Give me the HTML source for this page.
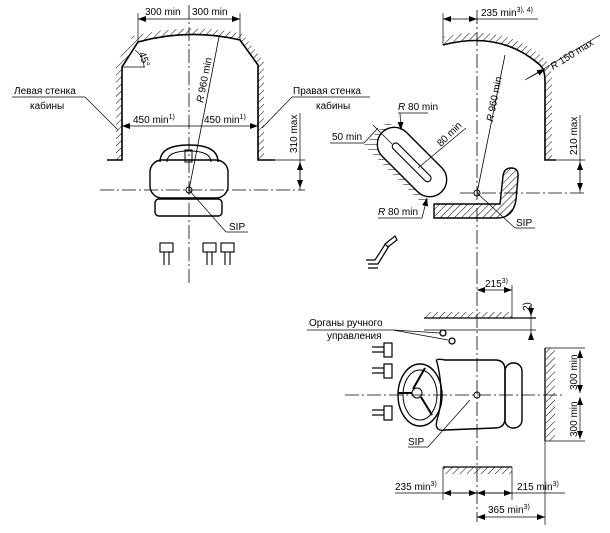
<!DOCTYPE html>
<html><head><meta charset="utf-8"><style>
html,body{margin:0;padding:0;background:#fff}
svg{display:block}
text{font-family:"Liberation Sans",sans-serif;font-size:10px;fill:#000}
</style></head><body>
<svg width="610" height="533" viewBox="0 0 610 533" xmlns="http://www.w3.org/2000/svg">
<defs>
<pattern id="h" width="5" height="5" patternUnits="userSpaceOnUse" patternTransform="rotate(45)">
<line x1="0" y1="0" x2="0" y2="5" stroke="#000" stroke-width="1"/>
</pattern>
<marker id="a" markerWidth="8" markerHeight="6" refX="8" refY="3" orient="auto-start-reverse" markerUnits="userSpaceOnUse"><path d="M0,0 L8,3 L0,6z"/></marker>
</defs>
<g fill="none" stroke="#000" stroke-width="1">
<!-- LEFT VIEW -->
<line x1="189" y1="5" x2="189" y2="285" stroke-dasharray="14,3,2,3" stroke-width="0.8"/>
<line x1="100" y1="190" x2="305" y2="190" stroke-dasharray="14,3,2,3" stroke-width="0.8"/>
<path d="M107,160 L122,160 L122,67 L138,42 Q189,28 240,40 L258,65 L258,160 L275,160" stroke-width="1.6"/>
<path d="M116,160 L116,64 L133,36 Q189,22 243,34 L264,62 L264,160 L258,160 L258,65 L240,40 Q189,28 138,42 L122,67 L122,160z" fill="url(#h)" stroke="none"/>
<line x1="138" y1="13" x2="138" y2="42" stroke-width="0.7"/>
<line x1="240" y1="13" x2="240" y2="40" stroke-width="0.7"/>
<line x1="138" y1="19" x2="240" y2="19" stroke-width="0.7" marker-start="url(#a)" marker-end="url(#a)"/>
<line x1="122" y1="67" x2="145" y2="67" stroke-width="0.7"/>
<path d="M135,50 Q144,57 144,67" stroke-width="0.7"/>
<line x1="122" y1="126" x2="258" y2="126" stroke-width="0.7" marker-start="url(#a)" marker-end="url(#a)"/>
<line x1="189" y1="190" x2="219" y2="37" stroke-width="0.8"/>
<line x1="12" y1="97" x2="85" y2="97" stroke-width="0.7"/>
<line x1="85" y1="97" x2="118" y2="130" stroke-width="0.7"/>
<line x1="370" y1="97" x2="292" y2="97" stroke-width="0.7"/>
<line x1="292" y1="97" x2="262" y2="128" stroke-width="0.7"/>
<line x1="275" y1="160" x2="305" y2="160" stroke-width="0.7"/>
<line x1="300" y1="113" x2="300" y2="190" stroke-width="0.7"/>
<line x1="300" y1="162" x2="300" y2="188" stroke-width="0.7" marker-start="url(#a)" marker-end="url(#a)"/>
<path d="M160,162 Q160,145 189,145 Q218,145 218,162" stroke-width="1.4"/>
<path d="M167,162 Q167,151 189,151 Q211,151 211,162" stroke-width="1"/>
<rect x="185" y="150" width="7" height="12" stroke-width="1"/>
<rect x="150" y="160" width="78" height="38" rx="12" stroke-width="1.4"/>
<rect x="155" y="199" width="67" height="17" rx="4" stroke-width="1.4"/>
<circle cx="189" cy="190" r="3"/>
<line x1="189" y1="190" x2="226" y2="232" stroke-width="0.7"/>
<line x1="226" y1="232" x2="248" y2="232" stroke-width="0.7"/>
<g stroke-width="1.1">
<rect x="160" y="243" width="13" height="9"/><line x1="164" y1="252" x2="164" y2="265"/><line x1="169" y1="252" x2="169" y2="265"/>
<rect x="203" y="243" width="13" height="9"/><line x1="207" y1="252" x2="207" y2="265"/><line x1="212" y1="252" x2="212" y2="265"/>
<rect x="221" y="243" width="13" height="9"/><line x1="225" y1="252" x2="225" y2="265"/><line x1="230" y1="252" x2="230" y2="265"/>
</g>
<!-- RIGHT SIDE VIEW -->
<line x1="477" y1="10" x2="477" y2="270" stroke-dasharray="14,3,2,3" stroke-width="0.8"/>
<line x1="460" y1="193" x2="585" y2="193" stroke-dasharray="14,3,2,3" stroke-width="0.8"/>
<path d="M443,45 Q500,30 540,65 Q545,70 545,80 L545,160 L556,160" stroke-width="1.6"/>
<path d="M443,45 L443,37 Q505,22 546,60 Q552,68 552,80 L552,160 L545,160 L545,80 Q545,70 540,65 Q500,30 443,45z" fill="url(#h)" stroke="none"/>
<line x1="443" y1="13" x2="443" y2="45" stroke-width="0.7"/>
<line x1="443" y1="19" x2="477" y2="19" stroke-width="0.7" marker-start="url(#a)" marker-end="url(#a)"/>
<line x1="477" y1="19" x2="538" y2="19" stroke-width="0.7"/>
<line x1="477" y1="193" x2="505" y2="55" stroke-width="0.8"/>
<line x1="525" y1="80" x2="600" y2="35" stroke-width="0.7"/>
<line x1="527" y1="79" x2="545" y2="69" stroke-width="0.7" marker-end="url(#a)"/>
<line x1="556" y1="160" x2="585" y2="160" stroke-width="0.7"/>
<line x1="580" y1="115" x2="580" y2="193" stroke-width="0.7"/>
<line x1="580" y1="162" x2="580" y2="191" stroke-width="0.7" marker-start="url(#a)" marker-end="url(#a)"/>
<circle cx="477" cy="193" r="3"/>
<line x1="477" y1="193" x2="515" y2="228" stroke-width="0.7"/>
<line x1="515" y1="228" x2="535" y2="228" stroke-width="0.7"/>
<!-- seat side -->
<path d="M434,204 L500,204 L503,176 Q504,168 511,168 Q519,168 518,177 L516,200 Q513,218 497,218 L434,218z" fill="url(#h)" stroke-width="1.4"/>
<!-- pedal capsule -->
<g transform="translate(412,162) rotate(45)">
<rect x="-42" y="-12" width="84" height="34" fill="url(#h)" stroke="none" transform="translate(-4,0)" />
<rect x="-42" y="-17" width="84" height="34" rx="17" fill="#fff" stroke-width="1.4"/>
<rect x="-26" y="-3" width="52" height="7" rx="3.5" stroke-width="1.1"/>
</g>
<line x1="398" y1="113" x2="428" y2="113" stroke-width="0.7"/>
<line x1="400" y1="113" x2="401" y2="130" stroke-width="0.7" marker-end="url(#a)"/>
<line x1="330" y1="143" x2="364" y2="143" stroke-width="0.7"/>
<line x1="364" y1="143" x2="378" y2="128" stroke-width="0.7"/>
<line x1="373" y1="125" x2="392" y2="144" stroke-width="0.7"/>
<line x1="418" y1="168" x2="466" y2="128" stroke-width="0.7"/>
<line x1="378" y1="218" x2="422" y2="218" stroke-width="0.7"/>
<line x1="422" y1="218" x2="427" y2="198" stroke-width="0.7" marker-end="url(#a)"/>
<g stroke-width="1.2">
<path d="M385,244 L395,236 L397,240 L388,247z"/>
<path d="M389,246 L378,264 L368,264 M386,243 L375,260 L366,260 M368,268 L378,268"/>
</g>
<!-- TOP VIEW -->
<line x1="477" y1="270" x2="477" y2="522" stroke-dasharray="14,3,2,3" stroke-width="0.8"/>
<line x1="345" y1="395" x2="565" y2="395" stroke-dasharray="14,3,2,3" stroke-width="0.8"/>
<line x1="512" y1="285" x2="512" y2="318" stroke-width="0.7"/>
<line x1="477" y1="290" x2="512" y2="290" stroke-width="0.7" marker-start="url(#a)" marker-end="url(#a)"/>
<rect x="424" y="312" width="88" height="6" fill="url(#h)" stroke="none"/>
<line x1="424" y1="318" x2="536" y2="318" stroke-width="1.2"/>
<line x1="424" y1="330" x2="536" y2="330" stroke-width="0.7"/>
<line x1="531" y1="305" x2="531" y2="340" stroke-width="0.7"/>
<line x1="531" y1="305" x2="531" y2="316" stroke-width="0.7" marker-end="url(#a)"/>
<line x1="531" y1="340" x2="531" y2="332" stroke-width="0.7" marker-end="url(#a)"/>
<line x1="307" y1="330" x2="393" y2="330" stroke-width="0.7"/>
<line x1="393" y1="330" x2="440" y2="333" stroke-width="0.7"/>
<line x1="393" y1="330" x2="448" y2="340" stroke-width="0.7"/>
<circle cx="443" cy="333" r="3" stroke-width="1.3"/>
<circle cx="452" cy="341" r="3" stroke-width="1.3"/>
<rect x="546" y="348" width="9" height="93" fill="url(#h)" stroke="none"/>
<line x1="545" y1="348" x2="545" y2="441" stroke-width="1.3"/>
<line x1="545" y1="348" x2="585" y2="348" stroke-width="0.7"/>
<line x1="545" y1="441" x2="585" y2="441" stroke-width="0.7"/>
<line x1="580" y1="350" x2="580" y2="393" stroke-width="0.7" marker-start="url(#a)" marker-end="url(#a)"/>
<line x1="580" y1="397" x2="580" y2="439" stroke-width="0.7" marker-start="url(#a)" marker-end="url(#a)"/>
<ellipse cx="420" cy="395" rx="22" ry="31" stroke-width="1.4"/>
<ellipse cx="420" cy="395" rx="17" ry="25" stroke-width="1"/>
<circle cx="417" cy="393" r="5"/>
<path d="M413,389 L425,368 M421,397 L432,415 M412,393 L398,393" stroke-width="2"/>
<path d="M437,362 Q434,358 445,360 L495,360 Q505,360 505,370 L505,418 Q505,428 495,428 L445,430 Q434,432 437,420 Q445,395 437,362z" stroke-width="1.4"/>
<rect x="505" y="363" width="17" height="65" rx="8" stroke-width="1.4"/>
<circle cx="477" cy="395" r="3"/>
<line x1="470" y1="400" x2="428" y2="447" stroke-width="0.7"/>
<line x1="408" y1="447" x2="428" y2="447" stroke-width="0.7"/>
<g stroke-width="1.2">
<rect x="384" y="343" width="8" height="14"/><line x1="372" y1="347" x2="384" y2="347"/><line x1="372" y1="352" x2="384" y2="352"/>
<rect x="384" y="364" width="8" height="14"/><line x1="372" y1="368" x2="384" y2="368"/><line x1="372" y1="373" x2="384" y2="373"/>
<rect x="384" y="406" width="8" height="14"/><line x1="372" y1="410" x2="384" y2="410"/><line x1="372" y1="415" x2="384" y2="415"/>
</g>
<rect x="443" y="467" width="69" height="7" fill="url(#h)" stroke="none"/>
<line x1="443" y1="467" x2="512" y2="467" stroke-width="1.2"/>
<line x1="443" y1="467" x2="443" y2="500" stroke-width="0.7"/>
<line x1="512" y1="467" x2="512" y2="500" stroke-width="0.7"/>
<line x1="545" y1="441" x2="545" y2="525" stroke-width="0.7"/>
<line x1="395" y1="493" x2="565" y2="493" stroke-width="0.7"/>
<line x1="443" y1="493" x2="477" y2="493" stroke-width="0.7" marker-start="url(#a)" marker-end="url(#a)"/>
<line x1="477" y1="493" x2="512" y2="493" stroke-width="0.7" marker-start="url(#a)" marker-end="url(#a)"/>
<line x1="477" y1="517" x2="545" y2="517" stroke-width="0.7" marker-start="url(#a)" marker-end="url(#a)"/>
</g>
<!-- TEXT -->
<text x="145" y="15">300 min</text>
<text x="192" y="15">300 min</text>
<text x="136" y="57" font-size="9" transform="rotate(70 140 57)">45°</text>
<text x="14" y="94">Левая стенка</text>
<text x="30" y="109">кабины</text>
<text x="293" y="94">Правая стенка</text>
<text x="316" y="109">кабины</text>
<text x="133" y="123">450 min<tspan font-size="7" dy="-4">1)</tspan></text>
<text x="204" y="123">450 min<tspan font-size="7" dy="-4">1)</tspan></text>
<text transform="translate(203,103) rotate(-79)"><tspan font-style="italic">R</tspan> 960 min</text>
<text transform="translate(297,153) rotate(-90)">310 max</text>
<text x="229" y="230">SIP</text>
<text x="481" y="16">235 min<tspan font-size="7" dy="-4">3), 4)</tspan></text>
<text transform="translate(553,70) rotate(-32)"><tspan font-style="italic">R</tspan> 150 max</text>
<text transform="translate(493,122) rotate(-79)"><tspan font-style="italic">R</tspan> 960 min</text>
<text transform="translate(577,155) rotate(-90)">210 max</text>
<text x="398" y="110"><tspan font-style="italic">R</tspan> 80 min</text>
<text x="332" y="140">50 min</text>
<text transform="translate(441,147) rotate(-45)">80 min</text>
<text x="378" y="215"><tspan font-style="italic">R</tspan> 80 min</text>
<text x="516" y="226">SIP</text>
<text x="485" y="287">215<tspan font-size="7" dy="-4">3)</tspan></text>
<text transform="translate(530,311) rotate(-90)" font-size="7">2)</text>
<text x="309" y="326">Органы ручного</text>
<text x="327" y="339">управления</text>
<text transform="translate(577,390) rotate(-90)">300 min</text>
<text transform="translate(577,437) rotate(-90)">300 min</text>
<text x="408" y="445">SIP</text>
<text x="395" y="490">235 min<tspan font-size="7" dy="-4">3)</tspan></text>
<text x="517" y="490">215 min<tspan font-size="7" dy="-4">3)</tspan></text>
<text x="488" y="513">365 min<tspan font-size="7" dy="-4">3)</tspan></text>
</svg>
</body></html>
